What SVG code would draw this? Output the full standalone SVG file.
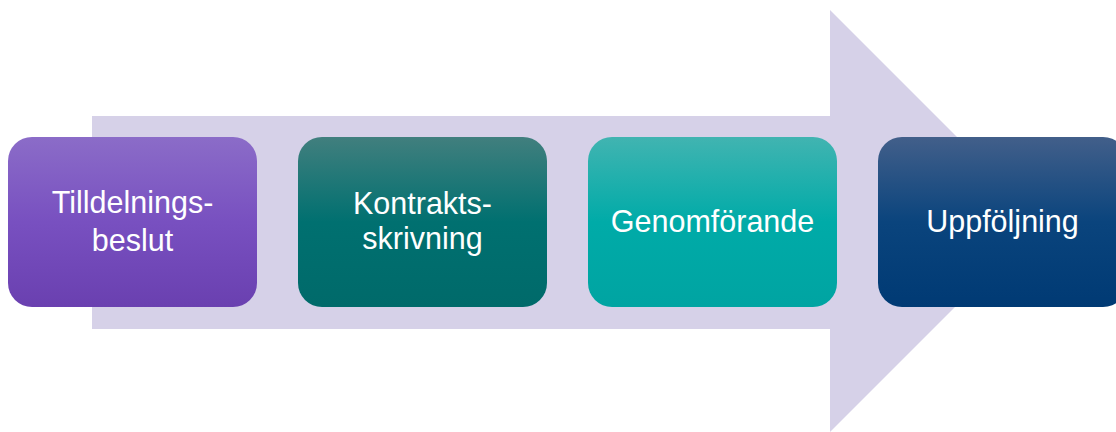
<svg xmlns="http://www.w3.org/2000/svg" width="1116" height="432" viewBox="0 0 1116 432">
<defs>
<linearGradient id="g1" x1="0" y1="0" x2="0" y2="1"><stop offset="0" stop-color="#8b6cc8"/><stop offset="0.5" stop-color="#7850c0"/><stop offset="1" stop-color="#6a40b0"/></linearGradient>
<linearGradient id="g2" x1="0" y1="0" x2="0" y2="1"><stop offset="0" stop-color="#417f7e"/><stop offset="0.5" stop-color="#007070"/><stop offset="1" stop-color="#006a6a"/></linearGradient>
<linearGradient id="g3" x1="0" y1="0" x2="0" y2="1"><stop offset="0" stop-color="#41b4b1"/><stop offset="0.5" stop-color="#00aba8"/><stop offset="1" stop-color="#00a4a2"/></linearGradient>
<linearGradient id="g4" x1="0" y1="0" x2="0" y2="1"><stop offset="0" stop-color="#425f8a"/><stop offset="0.5" stop-color="#0a447d"/><stop offset="1" stop-color="#003a74"/></linearGradient>
<style>
.lbl{font-family:"Liberation Sans",Arial,sans-serif;font-size:30.5px;fill:#ffffff;text-anchor:middle}
</style>
</defs>
<rect width="1116" height="432" fill="#ffffff"/>
<g id="connectors">
<polygon points="92,116 830,116 830,10 1041,221 830,432 830,329 92,329" fill="#d6d1e8"/>
</g>
<g id="node1">
<rect x="8" y="137" width="249" height="170" rx="24" fill="url(#g1)"/>
<text class="lbl" x="132.5" y="213">Tilldelnings-</text>
<text class="lbl" x="132.5" y="251">beslut</text>
</g>
<g id="node2">
<rect x="298" y="137" width="249" height="170" rx="24" fill="url(#g2)"/>
<text class="lbl" x="422.5" y="214">Kontrakts-</text>
<text class="lbl" x="422.5" y="249">skrivning</text>
</g>
<g id="node3">
<rect x="588" y="137" width="249" height="170" rx="24" fill="url(#g3)"/>
<text class="lbl" x="712.5" y="232">Genomförande</text>
</g>
<g id="node4">
<rect x="878" y="137" width="249" height="170" rx="24" fill="url(#g4)"/>
<text class="lbl" x="1002.5" y="232">Uppföljning</text>
</g>
</svg>
